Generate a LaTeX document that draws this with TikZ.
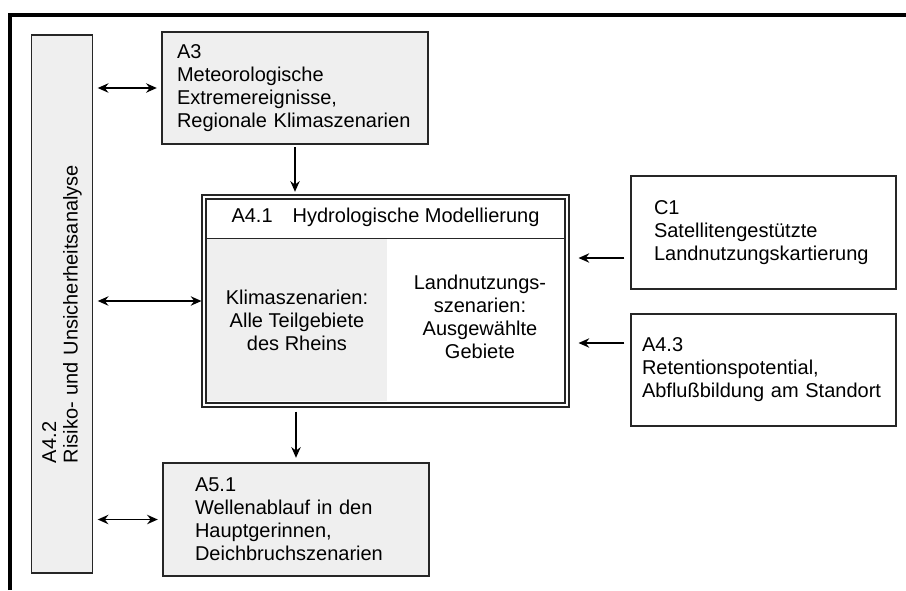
\documentclass[tikz,border=0pt]{standalone}
\usepackage{fontspec}
\setmainfont{Liberation Sans}
\usepackage{tikz}
\usetikzlibrary{arrows.meta}
\definecolor{boxgray}{RGB}{239,239,239}
\newcommand\px{0.75pt}

\begin{document}
\begin{tikzpicture}[x=\px, y=-\px, font=\fontsize{15}{17.25}\selectfont,
  box/.style = {draw=black!85, line width=0.8pt, align=left, inner ysep=0pt},
  grau/.style = {box, fill=boxgray},
  pfeil/.style = {line width=1.3pt, -{Stealth[length=8pt,width=7pt]}},
  doppel/.style = {line width=1.3pt, {Stealth[length=8pt,width=7pt]}-{Stealth[length=8pt,width=7pt]}}]
	\useasboundingbox (0,0) rectangle (906,590);
	\draw[line width=2.5pt] (10,590) -- (10,15) -- (906,15);
	% boxes
	\node[grau, rotate=90, font=\fontsize{15}{16}\selectfont, minimum height=61*\px, inner xsep=110*\px, text width=318*\px] (a42) at (62,304) {A4.2\\Risiko- und Unsicherheitsanalyse};
	\node[grau, minimum height=112*\px, inner xsep=15*\px, text width=236*\px] (a3) at (295,88) {A3\\Meteorologische\\Extremereignisse,\\Regionale Klimaszenarien};
	\node[grau, minimum height=113*\px, inner xsep=32*\px, text width=202*\px] (a51) at (296,519.5) {A5.1\\Wellenablauf in den\\Hauptgerinnen,\\Deichbruchszenarien};
	\node[box, minimum height=113*\px, inner xsep=23*\px, text width=219*\px] (c1) at (763.5,232.5) {C1\\Satellitengestützte\\Landnutzungskartierung};
	\node[box, minimum height=112*\px, inner xsep=11*\px, text width=243*\px] (a43) at (763.5,370) {A4.3\\Retentionspotential,\\Abflußbildung am Standort};
	% A4.1
	\node[fill=boxgray, inner sep=0pt, minimum width=180*\px, minimum height=162*\px, align=center] (klima) at (297,320) {Klimaszenarien:\\Alle Teilgebiete\\des Rheins};
	\node[box, double, double distance=2.2pt, minimum width=363*\px, minimum height=208*\px] (a41) at (385.5,301) {};
	\node[align=center] (land) at (480,317) {Landnutzungs-\\szenarien:\\Ausgewählte\\Gebiete};
	\node (a41titel) at (385.5,217) {A4.1\quad Hydrologische Modellierung};
	\draw[black!85, line width=0.8pt] ([xshift=2pt]a41.west |- klima.north) -- ([xshift=-2pt]a41.east |- klima.north);
	% arrows
	\draw[pfeil] ([yshift=-2pt]a3.south) -- ([yshift=3.5pt]a3.south |- a41.north);
	\draw[pfeil] ([yshift=-4.5pt]a51.north |- a41.south) -- ([yshift=3.5pt]a51.north);
	\draw[doppel] ([xshift=3.5pt]a42.south |- a3.west) -- ([xshift=-3.5pt]a3.west);
	\draw[doppel] ([xshift=3.5pt]a42.south |- a41.west) -- ([xshift=-1.5pt]a41.west);
	\draw[doppel] ([xshift=3.5pt]a42.south |- a51.west) -- ([xshift=-3.5pt]a51.west);
	\coordinate (c1pfeil) at ([shift={(-6,25.5)}]c1.west);
	\coordinate (a43pfeil) at ([shift={(-6,-27)}]a43.west);
	\draw[pfeil] (c1pfeil) -- ([xshift=11*\px]a41.east |- c1pfeil);
	\draw[pfeil] (a43pfeil) -- ([xshift=11*\px]a41.east |- a43pfeil);
\end{tikzpicture}
\end{document}
